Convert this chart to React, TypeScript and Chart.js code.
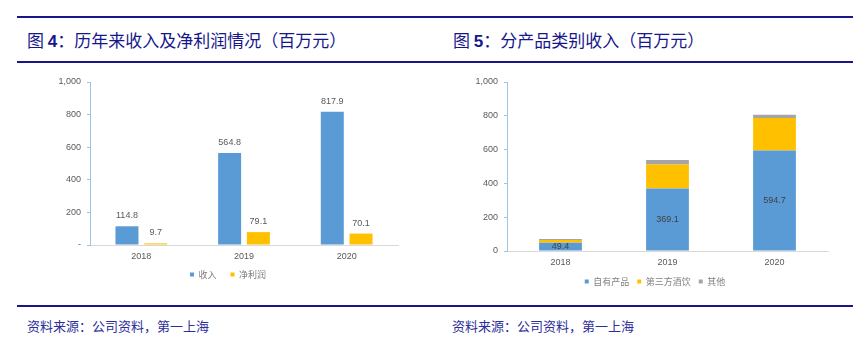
import React, { useEffect, useRef } from 'react';
import { Chart, registerables } from 'chart.js';

Chart.register(...registerables);

const years = ['2018', '2019', '2020'];
const revenue = [114.8, 564.8, 817.9];
const netProfit = [9.7, 79.1, 70.1];
const ownProducts = [49.4, 369.1, 594.7];
const thirdPartyDrinks = [15, 143, 192];
const others = [6, 26, 20];
const yMax = 1000;
const yStep = 200;

const NAVY = '#17178a';
const BLUE = '#5b9bd5';
const YELLOW = '#ffc000';
const GREY = '#a5a5a5';
const TICK = '#595959';
const FONT = '"Liberation Sans", Arial, sans-serif';
const CJK = '"Noto Sans CJK SC", sans-serif';

const aboveLabels = {
  id: 'aboveLabels',
  afterDatasetsDraw(chart: any) {
    const ctx = chart.ctx;
    ctx.save();
    ctx.font = `9px ${FONT}`;
    ctx.fillStyle = TICK;
    ctx.textAlign = 'center';
    ctx.textBaseline = 'bottom';
    chart.data.datasets.forEach((ds: any, i: number) => {
      const meta = chart.getDatasetMeta(i);
      meta.data.forEach((el: any, j: number) => {
        ctx.fillText(ds.data[j].toFixed(1), el.x, el.y - 6);
      });
    });
    ctx.restore();
  },
};

const insideLabels = {
  id: 'insideLabels',
  afterDatasetsDraw(chart: any) {
    const ctx = chart.ctx;
    ctx.save();
    ctx.font = `9px ${FONT}`;
    ctx.fillStyle = '#404040';
    ctx.textAlign = 'center';
    ctx.textBaseline = 'middle';
    const ds = chart.data.datasets[0];
    const meta = chart.getDatasetMeta(0);
    meta.data.forEach((el: any, j: number) => {
      ctx.fillText(ds.data[j].toFixed(1), el.x, (el.y + el.base) / 2);
    });
    ctx.restore();
  },
};

// shifts the legend horizontally and places its text line at a given y (canvas px)
const legendPlace = (dx: number, centerY: number) => ({
  id: 'legendPlace',
  afterLayout(chart: any) {
    const l = chart.legend;
    if (l) {
      const pad = l.options.labels.padding;
      const h = l.bottom - l.top;
      l.left += dx;
      l.right += dx;
      l.top = centerY - pad - 5;
      l.bottom = l.top + h;
    }
  },
});

function commonScales(zeroDash: boolean, yWidth: number) {
  return {
    x: {
      grid: { display: false, drawTicks: false },
      border: { color: '#d9d9d9', width: 1 },
      ticks: { color: TICK, font: { size: 9, family: FONT }, padding: 6 },
      afterFit: (s: any) => { s.height = 18; },
    },
    y: {
      min: 0,
      max: yMax,
      grid: { display: true, drawOnChartArea: false, tickLength: 3, color: '#9dc3e6' },
      border: { color: '#9dc3e6', width: 1 },
      ticks: {
        stepSize: yStep,
        color: TICK,
        font: { size: 9, family: FONT },
        padding: 6,
        callback: (v: any) => (zeroDash && v === 0 ? '-' : Number(v).toLocaleString('en-US')),
      },
      afterFit: (s: any) => { s.width = yWidth; },
    },
  };
}

function legendOpts(pad: number) {
  return {
    display: true,
    position: 'bottom' as const,
    labels: {
      boxWidth: 4,
      boxHeight: 4,
      padding: pad,
      color: '#7f7f7f',
      font: { size: 9, family: CJK },
    },
  };
}

export default function App() {
  const leftRef = useRef<HTMLCanvasElement>(null);
  const rightRef = useRef<HTMLCanvasElement>(null);

  useEffect(() => {
    const left = new Chart(leftRef.current!, {
      type: 'bar',
      data: {
        labels: years,
        datasets: [
          { label: '收入', data: revenue, backgroundColor: BLUE, barPercentage: 0.8, categoryPercentage: 0.56 },
          { label: '净利润', data: netProfit, backgroundColor: YELLOW, barPercentage: 0.8, categoryPercentage: 0.56 },
        ],
      },
      options: {
        animation: false,
        responsive: false,
        maintainAspectRatio: false,
        layout: { padding: { top: 12, right: 32, left: 0, bottom: 0 } },
        scales: commonScales(true, 70) as any,
        plugins: { legend: legendOpts(14), tooltip: { enabled: false } },
      },
      plugins: [aboveLabels, legendPlace(19, 205)],
    });
    const right = new Chart(rightRef.current!, {
      type: 'bar',
      data: {
        labels: years,
        datasets: [
          { label: '自有产品', data: ownProducts, backgroundColor: BLUE, barPercentage: 0.8, categoryPercentage: 0.5 },
          { label: '第三方酒饮', data: thirdPartyDrinks, backgroundColor: YELLOW, barPercentage: 0.8, categoryPercentage: 0.5 },
          { label: '其他', data: others, backgroundColor: GREY, barPercentage: 0.8, categoryPercentage: 0.5 },
        ],
      },
      options: {
        animation: false,
        responsive: false,
        maintainAspectRatio: false,
        layout: { padding: { top: 12, right: 25, left: 0, bottom: 0 } },
        scales: (() => {
          const s: any = commonScales(false, 67);
          s.x.stacked = true;
          s.y.stacked = true;
          return s;
        })(),
        plugins: { legend: legendOpts(8), tooltip: { enabled: false } },
      },
      plugins: [insideLabels, legendPlace(21, 212)],
    });
    return () => {
      left.destroy();
      right.destroy();
    };
  }, []);

  const line = (top: number): React.CSSProperties => ({
    position: 'absolute', left: 17, right: 0, top, height: 2, background: NAVY,
  });
  const title: React.CSSProperties = {
    position: 'absolute', top: 29, fontFamily: CJK, fontSize: 17, color: NAVY, whiteSpace: 'nowrap', lineHeight: '22px',
  };
  const source: React.CSSProperties = {
    position: 'absolute', top: 317, fontFamily: CJK, fontSize: 13, color: '#2e2e9a', whiteSpace: 'nowrap', lineHeight: '18px',
  };

  return (
    <div style={{ position: 'fixed', left: 0, top: 0, width: 853, height: 343, background: '#fff', overflow: 'hidden' }}>
      <div style={line(16)} />
      <div style={line(61)} />
      <div style={line(305)} />
      <div style={{ ...title, left: 27 }}>图 <b style={{ fontFamily: FONT }}>4</b>：历年来收入及净利润情况（百万元）</div>
      <div style={{ ...title, left: 453 }}>图 <b style={{ fontFamily: FONT }}>5</b>：分产品类别收入（百万元）</div>
      <canvas ref={leftRef} width={410} height={226} style={{ position: 'absolute', left: 20, top: 70, width: 410, height: 226 }} />
      <canvas ref={rightRef} width={413} height={226} style={{ position: 'absolute', left: 440, top: 70, width: 413, height: 226 }} />
      <div style={{ ...source, left: 27 }}>资料来源：公司资料，第一上海</div>
      <div style={{ ...source, left: 452 }}>资料来源：公司资料，第一上海</div>
    </div>
  );
}
